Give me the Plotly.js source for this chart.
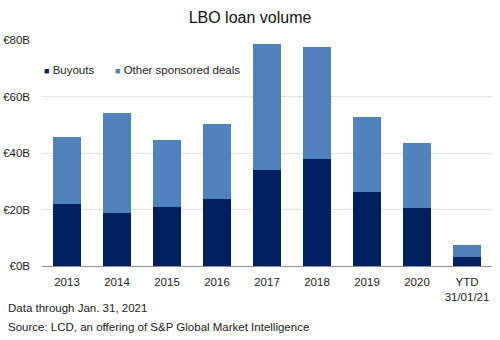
<!DOCTYPE html>
<html><head><meta charset="utf-8">
<script src="https://cdn.plot.ly/plotly-3.0.1.min.js"></script>
<style>html,body{margin:0;padding:0;background:#fff}#chart{width:500px;height:340px}</style>
</head><body><div id="chart"></div>
<script>
const categories = ["2013","2014","2015","2016","2017","2018","2019","2020","YTD<br>31/01/21"];
const buyouts = [21.8, 18.6, 20.9, 23.8, 34.0, 38.0, 26.3, 20.4, 3.1];
const otherSponsored = [23.9, 35.4, 23.7, 26.5, 44.5, 39.4, 26.6, 23.3, 4.2];
const tickVals = [0, 20, 40, 60, 80];
const tickText = ["€0B", "€20B", "€40B", "€60B", "€80B"];
const seriesNames = ["Buyouts", "Other sponsored deals"];
const seriesColors = ["#002060", "#4F81BD"];

const font = "Liberation Sans, Arial, sans-serif";
const data = [
  {type: "bar", name: seriesNames[0], x: categories, y: buyouts, marker: {color: seriesColors[0]}, hoverinfo: "skip", showlegend: false},
  {type: "bar", name: seriesNames[1], x: categories, y: otherSponsored, marker: {color: seriesColors[1]}, hoverinfo: "skip", showlegend: false}
];
const sq = (c) => '<span style="color:' + c + ';font-size:9px">■</span>';
const layout = {
  width: 500, height: 340,
  margin: {l: 42, r: 8, t: 40, b: 74},
  paper_bgcolor: "#fff", plot_bgcolor: "#fff",
  barmode: "stack", bargap: 0.44,
  font: {family: font, size: 11.5, color: "#222"},
  title: {text: "LBO loan volume", font: {family: font, size: 16, color: "#111"}, x: 0.5, xanchor: "center", y: 0.95, yanchor: "middle"},
  showlegend: false,
  xaxis: {type: "category", showgrid: false, showline: true, linecolor: "#8c8c8c", linewidth: 1, ticks: "", ticklabelstandoff: 5, tickfont: {size: 11.5}, fixedrange: true},
  yaxis: {range: [0, 80], tickvals: tickVals, ticktext: tickText, showgrid: true, gridcolor: "#e3e3e3", zeroline: false, showline: false, ticks: "", ticklabelstandoff: 11, tickfont: {size: 11.5}, fixedrange: true},
  annotations: [
    {text: sq(seriesColors[0]) + " " + seriesNames[0], xref: "paper", yref: "paper", x: 0.0, y: 0.868, xanchor: "left", yanchor: "middle", showarrow: false, font: {size: 11.5, color: "#222"}},
    {text: sq(seriesColors[1]) + " " + seriesNames[1], xref: "paper", yref: "paper", x: 0.158, y: 0.868, xanchor: "left", yanchor: "middle", showarrow: false, font: {size: 11.5, color: "#222"}},
    {text: "Data through Jan. 31, 2021", xref: "paper", yref: "paper", x: -0.08, y: -0.185, xanchor: "left", yanchor: "middle", showarrow: false, font: {size: 11.5, color: "#222"}},
    {text: "Source: LCD, an offering of S&P Global Market Intelligence", xref: "paper", yref: "paper", x: -0.08, y: -0.27, xanchor: "left", yanchor: "middle", showarrow: false, font: {size: 11.5, color: "#222"}}
  ]
};
Plotly.newPlot("chart", data, layout, {displayModeBar: false, staticPlot: true});
</script></body></html>
